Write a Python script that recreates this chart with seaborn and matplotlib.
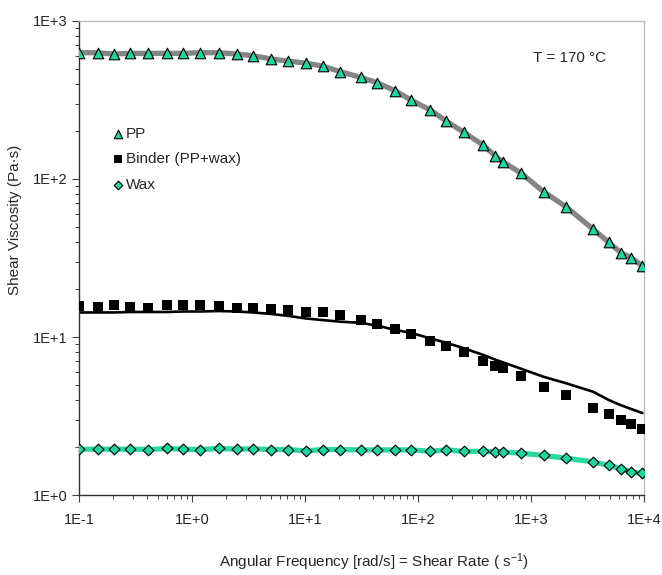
import numpy as np
import pandas as pd
import matplotlib
matplotlib.use("Agg")
import matplotlib.pyplot as plt
from matplotlib.ticker import LogLocator, FuncFormatter, NullFormatter
import seaborn as sns

# data (log-log rheology curves at 170 C)
freq = [0.1, 0.146, 0.204, 0.284, 0.41, 0.6, 0.83, 1.18, 1.73, 2.5, 3.46, 5.0,
        7.1, 10.2, 14.3, 20.5, 31, 43.5, 62.7, 87.4, 129, 177, 253, 378, 481,
        569, 816, 1292, 2039, 3556, 4855, 6250, 7710, 9700]
pp = [630, 630, 618, 624, 624, 624, 624, 630, 630, 618, 603, 575,
      558, 540, 519, 478, 440, 407, 362, 315, 273, 233, 198, 164, 140,
      128, 109, 83, 66.8, 48, 39.9, 34.1, 31.8, 28.1]
binder = [15.6, 15.4, 15.9, 15.4, 15.3, 15.9, 15.9, 15.9, 15.7, 15.3, 15.3, 15.0,
          14.8, 14.5, 14.4, 13.8, 12.9, 12.1, 11.2, 10.4, 9.48, 8.77, 8.0, 7.05, 6.58,
          6.34, 5.69, 4.83, 4.30, 3.57, 3.24, 2.97, 2.83, 2.63]
binder_fit = [14.3, 14.3, 14.3, 14.4, 14.4, 14.4, 14.5, 14.5, 14.6, 14.5, 14.3, 14.0,
              13.6, 13.1, 12.8, 12.5, 12.3, 11.8, 11.1, 10.6, 9.8, 9.2, 8.5, 7.7, 7.2,
              6.9, 6.3, 5.6, 5.1, 4.5, 4.0, 3.7, 3.5, 3.3]
wax = [1.95, 1.95, 1.95, 1.95, 1.94, 1.97, 1.95, 1.94, 1.97, 1.95, 1.96, 1.94,
       1.94, 1.90, 1.94, 1.94, 1.93, 1.93, 1.93, 1.93, 1.89, 1.93, 1.89, 1.89, 1.88,
       1.87, 1.84, 1.78, 1.71, 1.62, 1.54, 1.47, 1.40, 1.37]

df = pd.DataFrame({"freq": freq, "pp": pp, "binder": binder,
                   "binder_fit": binder_fit, "wax": wax})

sns.set_style("ticks")
plt.rcParams["font.family"] = ["Liberation Sans", "DejaVu Sans"]
plt.rcParams["mathtext.default"] = "regular"

teal = "#1ed6a0"

fig = plt.figure(figsize=(6.62, 5.75), dpi=100)
ax = fig.add_axes([0.1193, 0.1391, 0.8535, 0.8244])

# model / fit lines
sns.lineplot(data=df, x="freq", y="pp", ax=ax, color="#858585", linewidth=3.8,
             legend=False)
sns.lineplot(data=df, x="freq", y="wax", ax=ax, color="#2ad9a0", linewidth=3.8,
             legend=False)
sns.lineplot(data=df, x="freq", y="binder_fit", ax=ax, color="black", linewidth=1.9,
             legend=False)

# measured points
sns.scatterplot(data=df, x="freq", y="pp", ax=ax, marker="^", s=58, color=teal,
                edgecolor="black", linewidth=0.8, label="PP", zorder=5)
sns.scatterplot(data=df, x="freq", y="binder", ax=ax, marker="s", s=56, color="black",
                edgecolor="black", linewidth=0, label="Binder (PP+wax)", zorder=5)
sns.scatterplot(data=df, x="freq", y="wax", ax=ax, marker="D", s=30, color=teal,
                edgecolor="black", linewidth=0.8, label="Wax", zorder=5)

ax.set_xscale("log")
ax.set_yscale("log")
ax.set_xlim(0.1, 1e4)
ax.set_ylim(1, 1e3)

fmt = FuncFormatter(lambda v, p: f"1E{int(round(np.log10(v))):+d}" if v > 0 else "")
for axis in (ax.xaxis, ax.yaxis):
    axis.set_major_locator(LogLocator(base=10))
    axis.set_minor_locator(LogLocator(base=10, subs=np.arange(2, 10)))
    axis.set_major_formatter(fmt)
    axis.set_minor_formatter(NullFormatter())
ax.xaxis.set_major_formatter(FuncFormatter(
    lambda v, p: "1E-1" if v < 0.5 else f"1E{int(round(np.log10(v))):+d}"))

ax.tick_params(axis="both", which="major", direction="out", length=5, width=0.8,
               color="#404040", labelsize=10.5, pad=3)
ax.tick_params(axis="both", which="minor", direction="out", length=3, width=0.7,
               color="#404040")
ax.tick_params(axis="x", which="major", pad=8)

for side in ("left", "bottom"):
    ax.spines[side].set_color("#303030")
    ax.spines[side].set_linewidth(1.0)
for side in ("top", "right"):
    ax.spines[side].set_visible(True)
    ax.spines[side].set_color("#bdbdbd")
    ax.spines[side].set_linewidth(1.0)

ax.set_xlabel("Angular Frequency [rad/s] = Shear Rate ( s$^{-1}$)", fontsize=11)
ax.set_ylabel("Shear Viscosity (Pa·s)", fontsize=11)
ax.xaxis.set_label_coords(0.522, -0.118)
ax.yaxis.set_label_coords(-0.101, 0.58)

ax.text(0.869, 0.922, "T = 170 °C", transform=ax.transAxes, ha="center",
        va="center", fontsize=11)

leg = ax.legend(loc="upper left", bbox_to_anchor=(0.045, 0.79), frameon=False,
                fontsize=11, handletextpad=0.0, labelspacing=0.75,
                handlelength=1.0, borderaxespad=0, markerscale=0.8)

fig.savefig("out.png", dpi=100)
